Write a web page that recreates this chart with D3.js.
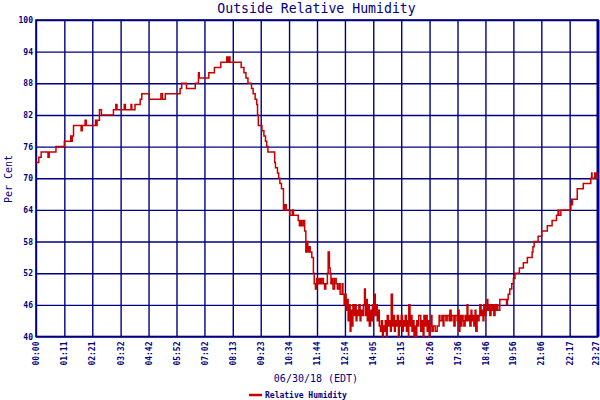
<!DOCTYPE html>
<html>
<head>
<meta charset="utf-8">
<script src="https://cdn.jsdelivr.net/npm/d3@7"></script>
<style>
  body { margin: 0; background: #fff; }
  svg { display: block; }
</style>
</head>
<body>
<div id="chart"></div>
<script>
// tick labels along the time axis (the label itself gives the minute of the day)
var timeLabels = ["00:00","01:11","02:21","03:32","04:42","05:52","07:02","08:13","09:23","10:34",
                  "11:44","12:54","14:05","15:15","16:26","17:36","18:46","19:56","21:06","22:17","23:27"];
var rhTicks = [40, 46, 52, 58, 64, 70, 76, 82, 88, 94, 100];

// readings: minute of day / relative humidity (%)
var nightMin = [0,7,13,30,33,50,71,87,89,91,94,113,116,123,126,149,151,153,159,164,194,200,203,221,224,238,240,248,261,265,284,313,317,324,361,365,377,399,407,409,433,447];
var nightRH  = [73,74,75,74,75,76,77,78,77,78,80,79,80,81,80,81,80,81,83,82,83,84,83,84,83,84,83,84,85,86,85,86,85,86,87,88,87,88,90,89,90,91];

var fallMin = [463,478,480,483,486,514,521,526,531,540,544,549,553,555,557,566,571,575,578,581,598,600,605,608,611,615,620,623,627,636,642,645,649,657,660,663,666,670,673,676,679,681,684,687,691,695,697,700,703,706,710,713,716,720,723,726,730,732,735,737];
var fallRH  = [92,93,92,93,92,91,90,89,88,87,86,85,84,82,80,79,78,77,76,75,73,72,71,70,69,68,64,65,64,63,64,63,63,62,61,62,61,62,60,56,58,56,57,56,55,52,50,49,51,50,51,50,51,50,49,50,52,56,53,52];

var lowMin = [739,742,744,748,752,755,759,762,767,769,772,774,777,779,782,784,787,789,792,794,797,799,802,804,807,809,812,814,817,820,823,825,828,830,833,835,838,840,843,845,848,850,853,855,858,860,863,865,868,870,873,875,878,880,883,885,888,890,893,895,898,900,903,905,908,910,913,915,918,920,923,925,928,930,933,934,937,939,942,944,947,949,952,954,957,959,962,964,967,970,972,975,977,980,982,985,987,990,992,995,1000,1005,1010,1012,1017,1020,1022,1027,1030,1035,1037,1040,1042,1047,1050,1055,1057,1060,1062,1065,1067,1070,1072,1075,1077,1080,1082,1085,1087,1090,1092,1095,1097,1100,1102,1105,1107,1110,1112,1115,1117,1120,1122,1125,1127,1130,1132,1135,1137,1140,1142,1145,1147,1150,1152,1155,1157];
var lowRH  = [50,51,49,51,50,49,50,48,50,48,46,48,45,47,43,46,41,45,42,46,44,46,43,45,44,46,43,45,44,46,49,44,47,43,46,42,45,43,46,44,48,44,46,43,45,42,41,43,40,42,41,43,40,44,42,43,41,48,42,44,41,43,42,44,40,43,42,44,41,43,42,44,41,43,40,46,42,44,41,43,40,42,40,43,42,44,44,41,43,40,44,42,44,41,43,40,42,44,41,42,41,42,44,43,44,42,44,43,44,43,45,43,44,42,44,43,45,41,44,42,44,43,42,44,43,46,43,44,42,45,43,44,42,45,41,44,43,44,46,44,45,43,46,44,45,47,45,46,44,46,45,46,44,46,45,46,45];

var riseMin = [1162,1179,1181,1183,1187,1192,1196,1200,1211,1221,1231,1243,1245,1248,1258,1267,1281,1293,1304,1308,1310,1315,1340,1342,1343,1344,1356,1371,1390,1392,1393,1400,1402,1403,1405,1408];
var riseRH  = [47,46,47,48,49,50,51,52,53,54,55,56,57,58,59,60,61,62,63,64,63,64,65,66,65,66,68,69,70,71,70,71,70,71,70,70];

var minutes = nightMin.concat(fallMin, lowMin, riseMin);
var humidity = nightRH.concat(fallRH, lowRH, riseRH);
var readings = minutes.map(function(m, i) { return {t: m, rh: humidity[i]}; });

function toMinutes(s) {
    var p = s.split(":");
    return +p[0] * 60 + +p[1];
}

var layout = {
    width: 600,
    height: 400,
    margin: { top: 20, right: 2, bottom: 63.5, left: 36 }
};
var navy = "#000080";
var red = "#c80000";
var mono = "'DejaVu Sans Mono', monospace";

var svg = d3.select("#chart").append("svg")
    .attr("width", layout.width)
    .attr("height", layout.height);

var xScale = d3.scaleLinear().domain([0, 1408])
    .range([layout.margin.left, layout.width - layout.margin.right]);
var yScale = d3.scaleLinear().domain([40, 100])
    .range([layout.height - layout.margin.bottom, layout.margin.top]);

var plotW = xScale.range()[1] - xScale.range()[0];
var plotH = yScale.range()[0] - yScale.range()[1];

var xAxis = d3.axisBottom(xScale)
    .tickValues(timeLabels.map(toMinutes))
    .tickFormat(function(d, i) { return timeLabels[i]; })
    .tickSize(-plotH)
    .tickPadding(4);

var yAxis = d3.axisLeft(yScale)
    .tickValues(rhTicks)
    .tickFormat(d3.format("d"))
    .tickSize(-plotW)
    .tickPadding(3);

svg.append("g")
    .attr("transform", "translate(0," + yScale(40) + ")")
    .call(xAxis)
    .call(function(g) {
        g.select(".domain").remove();
        g.selectAll(".tick line").attr("stroke", navy).attr("stroke-width", 1.4);
        g.selectAll(".tick text")
            .attr("fill", navy)
            .attr("font-family", mono)
            .attr("font-weight", "bold")
            .attr("font-size", 8)
            .attr("text-anchor", "end")
            .attr("transform", "rotate(-90)")
            .attr("x", -5)
            .attr("y", 0)
            .attr("dy", "0.32em");
        // last label sits on the right border, keep it inside the page
        g.selectAll(".tick text").filter(function(d, i) { return i === timeLabels.length - 1; })
            .attr("y", -2);
    });

svg.append("g")
    .attr("transform", "translate(" + xScale(0) + ",0)")
    .call(yAxis)
    .call(function(g) {
        g.select(".domain").remove();
        g.selectAll(".tick line").attr("stroke", navy).attr("stroke-width", 1.4);
        g.selectAll(".tick text")
            .attr("fill", navy)
            .attr("font-family", mono)
            .attr("font-weight", "bold")
            .attr("font-size", 8);
    });

// frame
svg.append("rect")
    .attr("x", xScale(0))
    .attr("y", yScale(100))
    .attr("width", plotW)
    .attr("height", plotH)
    .attr("fill", "none")
    .attr("stroke", navy)
    .attr("stroke-width", 1.6);
svg.append("line")
    .attr("x1", xScale(1408)).attr("x2", xScale(1408))
    .attr("y1", yScale(100)).attr("y2", yScale(40))
    .attr("stroke", navy)
    .attr("stroke-width", 3);

var line = d3.line()
    .curve(d3.curveStepAfter)
    .x(function(d) { return xScale(d.t); })
    .y(function(d) { return yScale(d.rh); });

svg.append("path")
    .datum(readings)
    .attr("fill", "none")
    .attr("stroke", red)
    .attr("stroke-width", 1.5)
    .attr("d", line);

// titles
svg.append("text")
    .attr("x", 316.5)
    .attr("y", 13)
    .attr("text-anchor", "middle")
    .attr("font-family", mono)
    .attr("font-size", 13.2)
    .attr("fill", navy)
    .text("Outside Relative Humidity");

svg.append("text")
    .attr("transform", "translate(12,179) rotate(-90)")
    .attr("text-anchor", "middle")
    .attr("font-family", mono)
    .attr("font-size", 10)
    .attr("fill", navy)
    .text("Per Cent");

svg.append("text")
    .attr("x", 316)
    .attr("y", 382)
    .attr("text-anchor", "middle")
    .attr("font-family", mono)
    .attr("font-size", 10)
    .attr("fill", navy)
    .text("06/30/18 (EDT)");

// legend
var legend = svg.append("g").attr("transform", "translate(249,395)");
legend.append("line")
    .attr("x1", 0).attr("x2", 13)
    .attr("stroke", red)
    .attr("stroke-width", 2.5);
legend.append("text")
    .attr("x", 16)
    .attr("y", 3)
    .attr("font-family", mono)
    .attr("font-weight", "bold")
    .attr("font-size", 8)
    .attr("fill", navy)
    .text("Relative Humidity");
</script>
</body>
</html>
